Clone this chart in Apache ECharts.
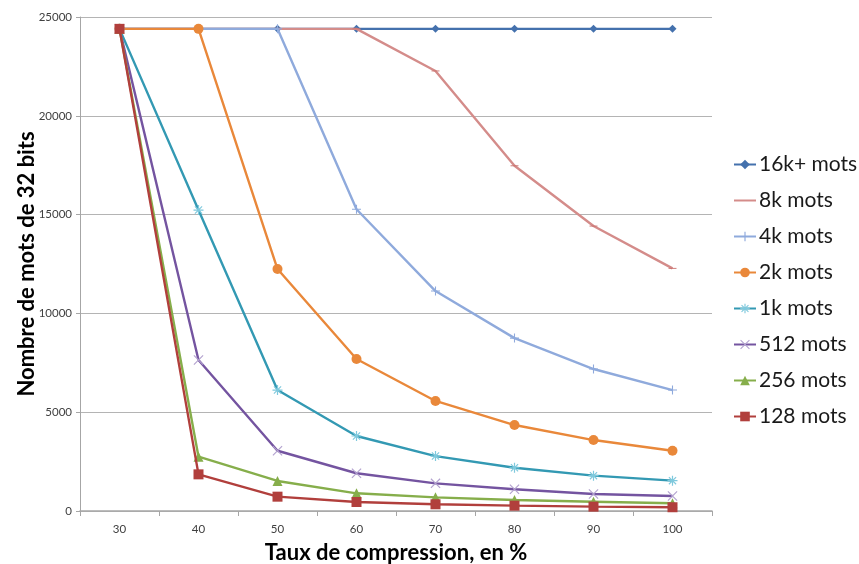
<!DOCTYPE html>
<html><head><meta charset="utf-8">
<script src="https://cdn.jsdelivr.net/npm/echarts@6/dist/echarts.min.js"></script>
<style>html,body{margin:0;padding:0;background:#fff}#c{width:859px;height:564px}</style>
</head><body><div id="c"></div>
<script>
const categories = ['30','40','50','60','70','80','90','100'];
const seriesNames = ['16k+ mots','8k mots','4k mots','2k mots','1k mots','512 mots','256 mots','128 mots'];
const s16k = [24400,24400,24400,24400,24400,24400,24400,24400];
const s8k  = [24400,24400,24400,24400,22270,17470,14420,12280];
const s4k  = [24400,24400,24400,15270,11130,8750,7185,6120];
const s2k  = [24400,24400,12245,7690,5570,4350,3590,3050];
const s1k  = [24400,15230,6120,3795,2780,2190,1790,1535];
const s512 = [24400,7640,3050,1910,1400,1100,860,760];
const s256 = [24400,2750,1520,895,690,560,470,390];
const s128 = [24400,1855,725,455,340,270,220,190];
const yTicks = [0,5000,10000,15000,20000,25000];

const allData = [s16k,s8k,s4k,s2k,s1k,s512,s256,s128];
const lineColors = ['#4471AD','#D48C8A','#8FAADC','#E9883A','#3399B3','#7454A0','#86AE4B','#B13F3C'];
const markColors = ['#4471AD','#C9706C','#8FAADC','#E9883A','#7FC9DD','#B3A2CF','#86AE4B','#B13F3C'];
const PLUS = 'path://M4.4,0H5.6V10H4.4ZM0,4.4H10V5.6H0Z';
const XSYM = 'path://M0,0.8L0.8,0L10,9.2L9.2,10Z M9.2,0L10,0.8L0.8,10L0,9.2Z';
const AST = 'path://M4.4,0H5.6V10H4.4ZM0,4.4H10V5.6H0Z M1,1.8L1.8,1L9,8.2L8.2,9Z M8.2,1L9,1.8L1.8,9L1,8.2Z';
const DASH = 'path://M0,0H10V3H0Z';
const symbols = ['diamond', DASH, PLUS, 'circle', AST, XSYM, 'triangle', 'rect'];
const sizes = [8, [8,3], 9, 10, 10, 10, 10, 10];

const chart = echarts.init(document.getElementById('c'), null, {renderer:'canvas'});
const FONT = 'Lato, "Open Sans", sans-serif';
chart.setOption({
  animation:false,
  backgroundColor:'#fff',
  grid:{left:80,right:147,top:17,bottom:53,containLabel:false,outerBoundsMode:'none'},
  legend:{
    orient:'vertical', left:733, top:154, padding:0,
    itemWidth:22, itemHeight:12, itemGap:15,
    textStyle:{fontFamily:FONT, fontSize:21, color:'#1a1a1a', padding:[0,0,0,-2]},
    data: seriesNames.map(function(n,i){
      return i===1 ? {name:n, itemStyle:{opacity:0}} : n;
    })
  },
  xAxis:{
    type:'category', data:categories, boundaryGap:true,
    name:'Taux de compression, en %', nameLocation:'middle', nameGap:31, nameMoveOverlap:false,
    nameTextStyle:{fontFamily:FONT, fontSize:22, fontWeight:'bold', color:'#000'},
    axisLine:{lineStyle:{color:'#A6A6A6', width:1.5}},
    axisTick:{show:true, alignWithLabel:false, length:5, lineStyle:{color:'#A6A6A6'}},
    axisLabel:{fontFamily:FONT, fontSize:11.5, color:'#404040', margin:12},
    splitLine:{show:false}
  },
  yAxis:{
    type:'value', min:0, max:25000, interval:5000,
    name:'Nombre de mots de 32 bits', nameLocation:'middle', nameGap:42, nameMoveOverlap:false,
    nameTextStyle:{fontFamily:FONT, fontSize:22, fontWeight:'bold', color:'#000'},
    axisLine:{show:true, lineStyle:{color:'#A6A6A6', width:1}},
    axisTick:{show:true, length:4, lineStyle:{color:'#A6A6A6'}},
    axisLabel:{fontFamily:FONT, fontSize:11.5, color:'#404040', margin:8,
      formatter:function(v){return yTicks.indexOf(v)>=0? String(v):'';}},
    splitLine:{lineStyle:{color:'#B4B4B4', width:1}}
  },
  series: seriesNames.map(function(n,i){
    return {
      name:n, type:'line', data:allData[i],
      symbol:symbols[i], symbolSize:sizes[i], symbolKeepAspect:true, showSymbol:true,
      lineStyle:{color:lineColors[i], width:2.4},
      itemStyle:{color:markColors[i]},
      emphasis:{disabled:true},
      z: 2 + i
    };
  })
});
</script></body></html>
